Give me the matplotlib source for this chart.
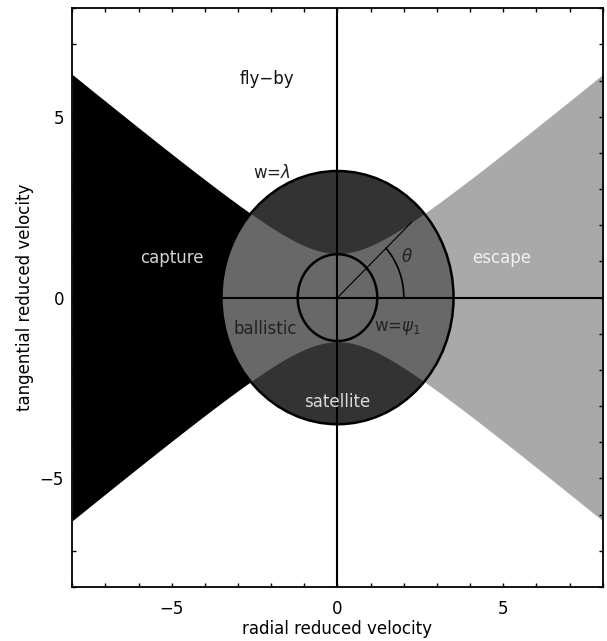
import numpy as np
import matplotlib
matplotlib.use("Agg")
import matplotlib.pyplot as plt
from matplotlib.patches import Circle

# axes range
x_lim = (-8.0, 8.0)
y_lim = (-8.0, 8.0)

# circles: w = lambda (outer) and w = psi_1 (inner)
lambda_radius = 3.5
psi1_radius = 1.2

# boundary curve between bound/unbound zones: y^2 = vertex^2 + (slope*x)^2
hyp_vertex = 1.22
hyp_slope = 0.756

# angle theta marker
theta_deg = 43.0
theta_arc_radius = 2.0

# region labels
labels = ["fly\u2212by", "w=$\\lambda$", "capture", "escape", "ballistic",
          "w=$\\psi_1$", "satellite", "$\\theta$"]
label_x = [-2.14, -1.98, -4.98, 4.95, -2.19, 1.81, 0.0, 2.1]
label_y = [6.04, 3.44, 1.09, 1.09, -0.86, -0.84, -2.89, 1.11]
label_col = ["#111111", "#222222", "#d4d4d4", "#f2f2f2", "#222222",
             "#222222", "#dadada", "#222222"]

c_capture = "#000000"
c_escape = "#a9a9a9"
c_inner = "#686868"
c_cap = "#333333"


def boundary(x):
    return np.sqrt(hyp_vertex ** 2 + (hyp_slope * x) ** 2)


fig = plt.figure(figsize=(6.07, 6.41), dpi=100)
ax = fig.add_axes([0.119, 0.0842, 0.874, 0.903])

# capture (left) and escape (right) wedges
xl = np.linspace(x_lim[0], 0, 300)
xr = np.linspace(0, x_lim[1], 300)
ax.fill_between(xl, -boundary(xl), boundary(xl), color=c_capture, lw=0, zorder=1)
ax.fill_between(xr, -boundary(xr), boundary(xr), color=c_escape, lw=0, zorder=1)

# disc inside w=lambda
ax.add_patch(Circle((0, 0), lambda_radius, facecolor=c_inner, edgecolor="none", zorder=2))

# dark caps (satellite zone) inside the disc
xi = np.sqrt((lambda_radius ** 2 - hyp_vertex ** 2) / (1 + hyp_slope ** 2))
xc = np.linspace(-xi, xi, 300)
top = np.sqrt(np.clip(lambda_radius ** 2 - xc ** 2, 0, None))
ax.fill_between(xc, boundary(xc), top, color=c_cap, lw=0, zorder=3)
ax.fill_between(xc, -top, -boundary(xc), color=c_cap, lw=0, zorder=3)

# outlines
ax.add_patch(Circle((0, 0), lambda_radius, fill=False, edgecolor="black", lw=1.8, zorder=5))
ax.add_patch(Circle((0, 0), psi1_radius, fill=False, edgecolor="black", lw=1.8, zorder=5))
ax.axvline(0, color="black", lw=1.5, zorder=5)
ax.plot([-lambda_radius, x_lim[1]], [0, 0], color="black", lw=1.5, zorder=5)

# theta line and arc
t = np.radians(theta_deg)
xe = np.sqrt(hyp_vertex ** 2 / (np.tan(t) ** 2 - hyp_slope ** 2))
ax.plot([0, xe], [0, xe * np.tan(t)], color="black", lw=0.8, zorder=5)
ang = np.linspace(0, t, 60)
ax.plot(theta_arc_radius * np.cos(ang), theta_arc_radius * np.sin(ang),
        color="black", lw=1.2, zorder=5)

for s, x, y, c in zip(labels, label_x, label_y, label_col):
    ax.text(x, y, s, color=c, fontsize=12, ha="center", va="center", zorder=6)

ax.set_xlim(*x_lim)
ax.set_ylim(*y_lim)
ticks = np.arange(-8, 9, 1)
ax.set_xticks(ticks)
ax.set_yticks(ticks)
ax.set_xticklabels([str(v).replace("-", "\u2212") if v % 5 == 0 else "" for v in ticks])
ax.set_yticklabels([str(v).replace("-", "\u2212") if v % 5 == 0 else "" for v in ticks])
ax.tick_params(direction="in", length=3, width=1, top=True, right=True,
               labelsize=12, pad=6)
ax.tick_params(axis="x", pad=9)
for sp in ax.spines.values():
    sp.set_linewidth(1.3)
    sp.set_zorder(7)

ax.set_xlabel("radial reduced velocity", fontsize=12, labelpad=2)
ax.set_ylabel("tangential reduced velocity", fontsize=12, labelpad=4)

fig.savefig("out.png", dpi=100)
